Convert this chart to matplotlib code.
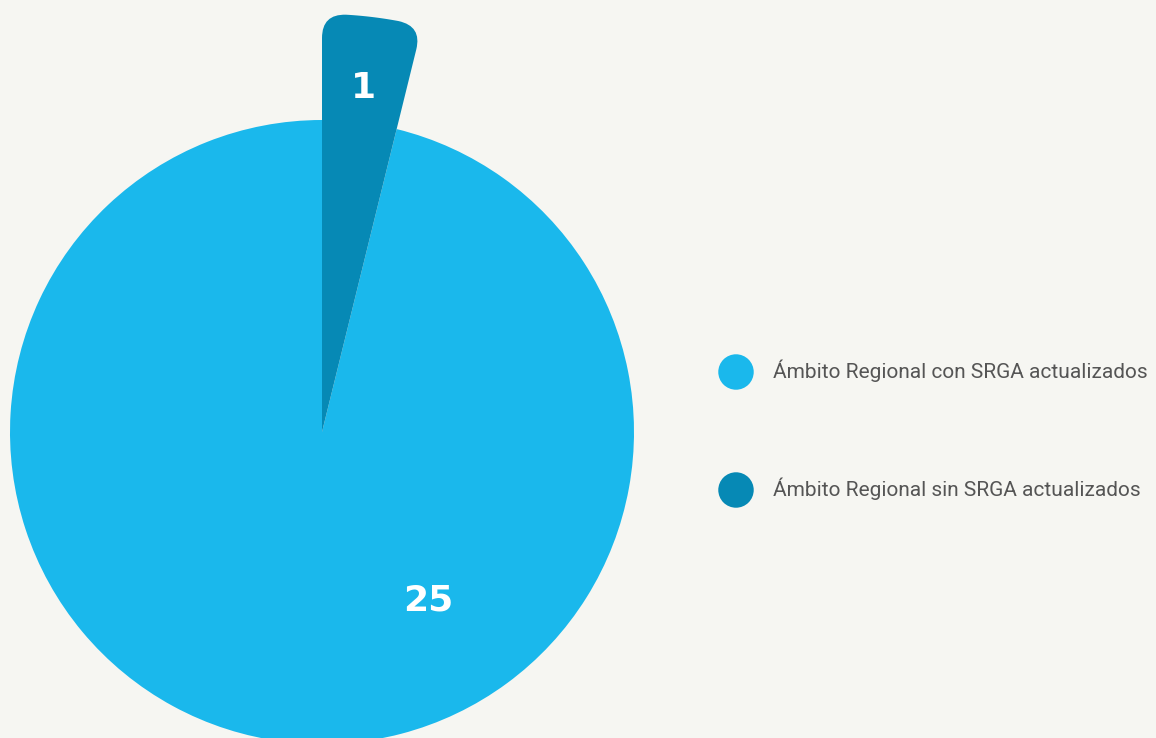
import numpy as np
import matplotlib
matplotlib.use("Agg")
import matplotlib.pyplot as plt
from matplotlib.path import Path
from matplotlib.patches import PathPatch

# data
labels = ["Ámbito Regional sin SRGA actualizados", "Ámbito Regional con SRGA actualizados"]
values = [1, 25]
colors = ["#0689b5", "#1ab8ec"]
legend_order = [1, 0]

bg = "#f6f6f2"
W, H = 1156, 738
cx, cy = 322, H - 432
R = 312
R_small = 418
corner = 24

fig = plt.figure(figsize=(W / 100, H / 100), dpi=100, facecolor=bg)
ax = fig.add_axes([0, 0, 1, 1])
ax.set_facecolor(bg)

wedges, _ = ax.pie(values, colors=colors, radius=R, center=(cx, cy),
                   startangle=90, counterclock=False,
                   wedgeprops=dict(linewidth=0))


def rounded_wedge(c, r, t1, t2, rc):
    # wedge with rounded outer corners
    t1r, t2r = np.radians(t1), np.radians(t2)
    dt = rc / r
    pt = lambda rr, t: (c[0] + rr * np.cos(t), c[1] + rr * np.sin(t))
    verts = [c, pt(r - rc, t1r), pt(r, t1r), pt(r, t1r + dt)]
    codes = [Path.MOVETO, Path.LINETO, Path.CURVE3, Path.CURVE3]
    for t in np.linspace(t1r + dt, t2r - dt, 40)[1:]:
        verts.append(pt(r, t))
        codes.append(Path.LINETO)
    verts += [pt(r, t2r), pt(r - rc, t2r), c]
    codes += [Path.CURVE3, Path.CURVE3, Path.CLOSEPOLY]
    return Path(verts, codes)


# the small slice sticks out further than the rest
small = wedges[0]
small.set_visible(False)
ax.add_patch(PathPatch(rounded_wedge((cx, cy), R_small, small.theta1, small.theta2, corner),
                       facecolor=colors[0], edgecolor="none", zorder=3))

# value labels
num_font = dict(color="white", fontsize=26, fontweight="heavy", family="DejaVu Sans",
                ha="center", va="center", zorder=5)
mid = np.radians((small.theta1 + small.theta2) / 2)
ax.text(cx + 0.83 * R_small * np.cos(mid), cy + 0.83 * R_small * np.sin(mid),
        str(values[0]), **num_font)
a = np.radians(-57.8)
ax.text(cx + 0.64 * R * np.cos(a), cy + 0.64 * R * np.sin(a), str(values[1]), **num_font)

# legend
leg_x, leg_y = 736, [H - 372, H - 490]
for i, y in zip(legend_order, leg_y):
    ax.scatter([leg_x], [y], s=np.pi * 20 ** 2 * (72 / 100) ** 2, color=colors[i],
               edgecolors="none", zorder=4)
    ax.text(leg_x + 37, y + 1, labels[i], color="#555555", fontsize=15, va="center", ha="left",
            family=["Roboto", "DejaVu Sans"], fontstretch="condensed")

ax.set_xlim(0, W)
ax.set_ylim(0, H)
ax.set_aspect("auto")
ax.axis("off")

plt.savefig("out.png", dpi=100, facecolor=bg)
